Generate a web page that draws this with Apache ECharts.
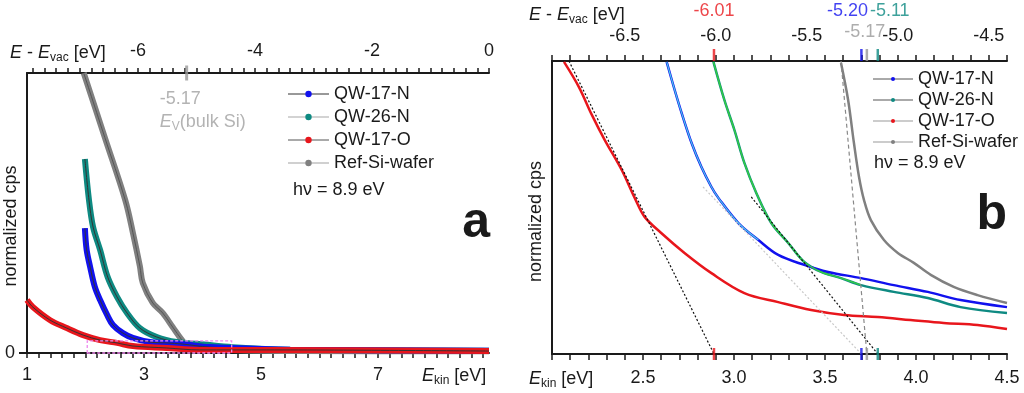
<!DOCTYPE html>
<html><head><meta charset="utf-8">
<script src="https://cdn.jsdelivr.net/npm/echarts@6/dist/echarts.min.js"></script>
<style>html,body{margin:0;padding:0;background:#fff}#c{width:1024px;height:393px}</style>
</head><body><div id="c"></div>
<script>
// ---------- Panel a data: [E_kin (eV), normalized cps] ----------
const grayA = [[1.97,1.0],[2.33,0.77],[2.68,0.546],[2.81,0.43],[2.93,0.31],[2.98,0.25],[3.15,0.179],[3.32,0.143],[3.49,0.093],[3.65,0.046],[3.73,0.025],[3.95,0.018],[4.52,0.011],[5.66,0.007],[8.9,0.006]];
const tealA = [[1.99,0.693],[2.06,0.546],[2.13,0.45],[2.25,0.368],[2.38,0.271],[2.54,0.2],[2.71,0.143],[2.93,0.089],[3.22,0.057],[3.56,0.039],[3.95,0.032],[4.52,0.021],[5.5,0.012],[8.9,0.008]];
const blueA = [[1.99,0.446],[2.02,0.368],[2.08,0.307],[2.16,0.236],[2.25,0.189],[2.37,0.136],[2.47,0.1],[2.64,0.071],[2.81,0.054],[3.1,0.039],[3.39,0.036],[3.66,0.032],[4.12,0.021],[5.5,0.012],[8.9,0.008]];
const redA = [[1.0,0.189],[1.1,0.164],[1.39,0.118],[1.68,0.089],[1.96,0.064],[2.25,0.046],[2.54,0.036],[2.81,0.025],[3.39,0.018],[3.95,0.011],[5.1,0.011],[8.9,0.007]];
const zoomBoxA = [[2.03,0],[4.5,0.043]];
const refVbmA = [-5.17];

// ---------- Panel b data ----------
const redB = [[2.066,0.997],[2.148,0.911],[2.219,0.816],[2.29,0.73],[2.383,0.628],[2.455,0.532],[2.509,0.468],[2.6,0.413],[2.728,0.345],[2.876,0.276],[3.057,0.208],[3.243,0.177],[3.424,0.15],[3.605,0.133],[3.79,0.126],[3.97,0.116],[4.152,0.106],[4.338,0.099],[4.5,0.085]];
const blueB = [[2.63,0.997],[2.674,0.901],[2.712,0.823],[2.767,0.72],[2.821,0.638],[2.876,0.57],[2.915,0.532],[3.024,0.447],[3.134,0.389],[3.243,0.338],[3.386,0.304],[3.517,0.28],[3.698,0.259],[3.878,0.235],[4.065,0.212],[4.245,0.184],[4.5,0.16]];
const tealB = [[2.887,0.997],[2.947,0.867],[3.002,0.765],[3.057,0.652],[3.123,0.549],[3.205,0.447],[3.298,0.379],[3.386,0.314],[3.479,0.28],[3.588,0.259],[3.698,0.235],[3.878,0.212],[4.065,0.191],[4.245,0.16],[4.5,0.14]];
const grayB = [[3.588,0.993],[3.627,0.867],[3.659,0.72],[3.687,0.604],[3.714,0.526],[3.752,0.457],[3.824,0.389],[3.9,0.345],[3.988,0.311],[4.081,0.27],[4.207,0.229],[4.338,0.201],[4.5,0.174]];
const fitRedB = [[2.093,1],[2.89,0]];
const fitBlueB = [[2.83,0.57],[3.70,0]];
const fitTealB = [[3.095,0.536],[3.79,0]];
const fitRefB = [[3.588,1],[3.73,0]];
const onsetEkinB = [2.89, 3.70, 3.73, 3.79];   // red, blue, gray, teal
const onsetEvacB = [-6.01, -5.20, -5.17, -5.11];

// ---------- tick labels ----------
const aBottomLabels = [1,3,5,7];
const aTopLabels = [-6,-4,-2,0];
const bBottomLabels = [2.5,3.0,3.5,4.0,4.5];
const bTopLabels = [-6.5,-6.0,-5.5,-5.0,-4.5];
const seriesNames = ['QW-17-N','QW-26-N','QW-17-O','Ref-Si-wafer'];

const C = {blue:'#1111ee', teal:'#0e8a82', red:'#e8161c', gray:'#808080', ink:'#1a1a1a'};
const FONT = 'Liberation Sans, Arial, Helvetica, sans-serif';

function steps(a,b,s){const r=[];for(let v=a;v<=b+1e-9;v+=s)r.push(+v.toFixed(3));return r;}

function xAx(grid,pos,min,max,labels,tickStep,margin,fmt,tickLen){
  return {type:'value',gridIndex:grid,position:pos,min:min,max:max,
    axisLine:{show:true,onZero:false,lineStyle:{color:C.ink,width:2}},
    axisTick:{show:true,customValues:steps(Math.ceil(min/tickStep-1e-9)*tickStep,max,tickStep),length:tickLen,lineStyle:{color:C.ink,width:1.5}},
    axisLabel:{customValues:labels,fontSize:18,color:C.ink,margin:margin,fontFamily:FONT,formatter:fmt},
    splitLine:{show:false}};
}
const rich = {
  i:{fontStyle:'italic',fontSize:18,color:C.ink,fontFamily:FONT},
  s:{fontSize:12,color:C.ink,padding:[10,0,0,0],fontFamily:FONT}
};
function txt(text,left,top,extra){
  return Object.assign({text:text,left:left,top:top,padding:0,
    textStyle:Object.assign({fontSize:18,fontWeight:'normal',color:C.ink,fontFamily:FONT,rich:rich},extra||{})});
}
function line(name,data,xi,yi,color,width,extra){
  return Object.assign({type:'line',name:name,data:data,xAxisIndex:xi,yAxisIndex:yi,symbol:'none',
    smooth:0.35,lineStyle:{color:color,width:width},itemStyle:{color:color},silent:true},extra||{});
}

const option = {
  animation:false,
  textStyle:{fontFamily:FONT},
  grid:[{left:27,top:73,width:462,height:280,outerBoundsMode:'none',containLabel:false},
        {left:552,top:61,width:455,height:293,outerBoundsMode:'none',containLabel:false}],
  xAxis:[
    xAx(0,'bottom',1,8.9,aBottomLabels,0.2,13,v=>String(v),5),
    xAx(0,'top',-7.9,0,aTopLabels,0.2,13,v=>String(v),5),
    xAx(1,'bottom',2.0,4.5,bBottomLabels,0.1,15,v=>v.toFixed(1),6),
    xAx(1,'top',-6.9,-4.4,bTopLabels,0.1,16,v=>v.toFixed(1),6)
  ],
  yAxis:[
    {type:'value',gridIndex:0,min:0,max:1,
     axisLine:{show:true,onZero:false,lineStyle:{color:C.ink,width:2}},
     axisTick:{show:true,customValues:[0],length:8,lineStyle:{color:C.ink,width:2}},
     axisLabel:{customValues:[0],fontSize:18,color:C.ink,margin:12},
     splitLine:{show:false},
     name:'normalized cps',nameLocation:'middle',nameGap:7,nameRotate:90,nameMoveOverlap:false,
     nameTextStyle:{fontSize:18,color:C.ink,padding:[0,26,0,0],verticalAlign:'bottom'}},
    {type:'value',gridIndex:1,min:0,max:1,
     axisLine:{show:true,onZero:false,lineStyle:{color:C.ink,width:2}},
     axisTick:{show:false},axisLabel:{show:false},splitLine:{show:false},
     name:'normalized cps',nameLocation:'middle',nameGap:7,nameRotate:90,nameMoveOverlap:false,
     nameTextStyle:{fontSize:18,color:C.ink,padding:[0,28,0,0],verticalAlign:'bottom'}}
  ],
  legend:[
    {orient:'vertical',left:287,top:85,padding:0,itemWidth:41,itemHeight:8,itemGap:5,selectedMode:false,
     textStyle:{fontSize:18,color:C.ink},
     data:[
      {name:'QW-17-N',itemStyle:{color:C.blue},lineStyle:{color:'#333',width:1}},
      {name:'QW-26-N',itemStyle:{color:C.teal},lineStyle:{color:'#c4c4c4',width:1.5}},
      {name:'QW-17-O',itemStyle:{color:C.red},lineStyle:{color:'#555',width:1}},
      {name:'Ref-Si-wafer',itemStyle:{color:C.gray},lineStyle:{color:'#d0d0d0',width:2}}
     ]},
    {orient:'vertical',left:872,top:70,padding:0,itemWidth:40,itemHeight:5,itemGap:3,selectedMode:false,
     textStyle:{fontSize:18,color:C.ink},formatter:n=>n.replace(' (b)',''),
     data:[
      {name:'QW-17-N (b)',itemStyle:{color:C.blue},lineStyle:{color:'#555',width:1}},
      {name:'QW-26-N (b)',itemStyle:{color:C.teal},lineStyle:{color:'#aaa',width:2}},
      {name:'QW-17-O (b)',itemStyle:{color:C.red},lineStyle:{color:'#999',width:1.2}},
      {name:'Ref-Si-wafer (b)',itemStyle:{color:C.gray},lineStyle:{color:'#999',width:1.2}}
     ]}
  ],
  title:[
    txt('{i|E} - {i|E}{s|vac} [eV]',10,42),
    txt('{i|E}{s|kin} [eV]',422,365),
    txt('{i|E} - {i|E}{s|vac} [eV]',529,4),
    txt('{i|E}{s|kin} [eV]',529,368),
    txt('hν = 8.9 eV',293,181),
    txt('hν = 8.9 eV',874,154),
    Object.assign(txt('a',null,198,{fontSize:50,fontWeight:'bold'}),{right:534,left:null}),
    Object.assign(txt('b',null,190,{fontSize:50,fontWeight:'bold'}),{right:17,left:null})
  ],
  series:[
    // ---- panel a ----
    line('Ref-Si-wafer',grayA,0,0,C.gray,6),
    line('Ref core',grayA,0,0,'#555',1),
    line('QW-26-N',tealA,0,0,C.teal,6),
    line('teal core',tealA,0,0,'#333',1),
    line('QW-17-N',blueA,0,0,C.blue,6),
    line('blue core',blueA,0,0,'#333',1),
    line('QW-17-O',redA,0,0,C.red,6),
    line('red core',redA,0,0,'#333',1),
    {type:'line',name:'zoom box',xAxisIndex:0,yAxisIndex:0,data:[],z:10,silent:true,
     markArea:{silent:true,z:10,itemStyle:{color:'rgba(0,0,0,0)',borderColor:'#ee88ee',borderWidth:1.3,borderType:[3,2]},
       data:[[{coord:zoomBoxA[0]},{coord:zoomBoxA[1]}]]}},
    {type:'scatter',xAxisIndex:1,yAxisIndex:0,clip:false,silent:true,symbol:'rect',symbolSize:[3,15],
     itemStyle:{color:'#999'},
     data:refVbmA.map(v=>[v,1]),
     label:{show:true,position:'bottom',distance:7,offset:[-27,0],align:'left',color:'#a0a0a0',fontSize:18,lineHeight:23,
       formatter:'{n|-5.17}\n{e|E}{v|V}{n|(bulk Si)}',
       rich:{n:{fontSize:18,color:'#a0a0a0'},e:{fontSize:18,fontStyle:'italic',color:'#a0a0a0'},v:{fontSize:12,color:'#a0a0a0',padding:[10,0,0,0]}}}},
    // ---- panel b ----
    line('QW-17-O (b)',redB,2,1,C.red,2.5),
    line('QW-26-N (b)',tealB,2,1,C.teal,2.5),
    line('QW-17-N (b)',blueB,2,1,C.blue,2.5),
    line('Ref-Si-wafer (b)',grayB,2,1,C.gray,2.5),
    line('blue fit part',blueB.slice(0,9),2,1,'#4cc8ea',1.2),
    line('teal fit part',tealB.slice(0,11),2,1,'#33cc44',1.5),
    line('fit red',fitRedB,2,1,'#111',1.2,{smooth:false,lineStyle:{color:'#111',width:1.2,type:[2,2]}}),
    line('fit blue',fitBlueB,2,1,'#c8c8c8',1.2,{smooth:false,lineStyle:{color:'#c8c8c8',width:1.2,type:[2,2]}}),
    line('fit teal',fitTealB,2,1,'#111',1.2,{smooth:false,lineStyle:{color:'#111',width:1.2,type:[2,2]}}),
    line('fit ref',fitRefB,2,1,'#888',1.2,{smooth:false,lineStyle:{color:'#888',width:1.2,type:[4,3]}}),
    {type:'scatter',xAxisIndex:2,yAxisIndex:1,clip:false,silent:true,symbol:'rect',symbolSize:[2.5,12],z:5,
     data:onsetEkinB.map((v,i)=>({value:[v,0],itemStyle:{color:[C.red,C.blue,'#999',C.teal][i]}}))},
    {type:'scatter',xAxisIndex:3,yAxisIndex:1,clip:false,silent:true,symbol:'rect',symbolSize:[2.5,12],symbolOffset:[0,-6],z:5,
     data:onsetEvacB.map((v,i)=>{
       const col=[C.red,C.blue,'#999',C.teal][i];
       const off=[[0,0],[-14,0],[-2,0],[12,0]][i];
       const dist=[29,29,8,29][i];
       return {value:[v,1],itemStyle:{color:col},
         label:{show:true,position:'top',distance:dist,offset:off,color:col,fontSize:18,formatter:v.toFixed(2)}};
     })}
  ]
};
const chart = echarts.init(document.getElementById('c'),null,{renderer:'canvas'});
chart.setOption(option);
</script></body></html>
